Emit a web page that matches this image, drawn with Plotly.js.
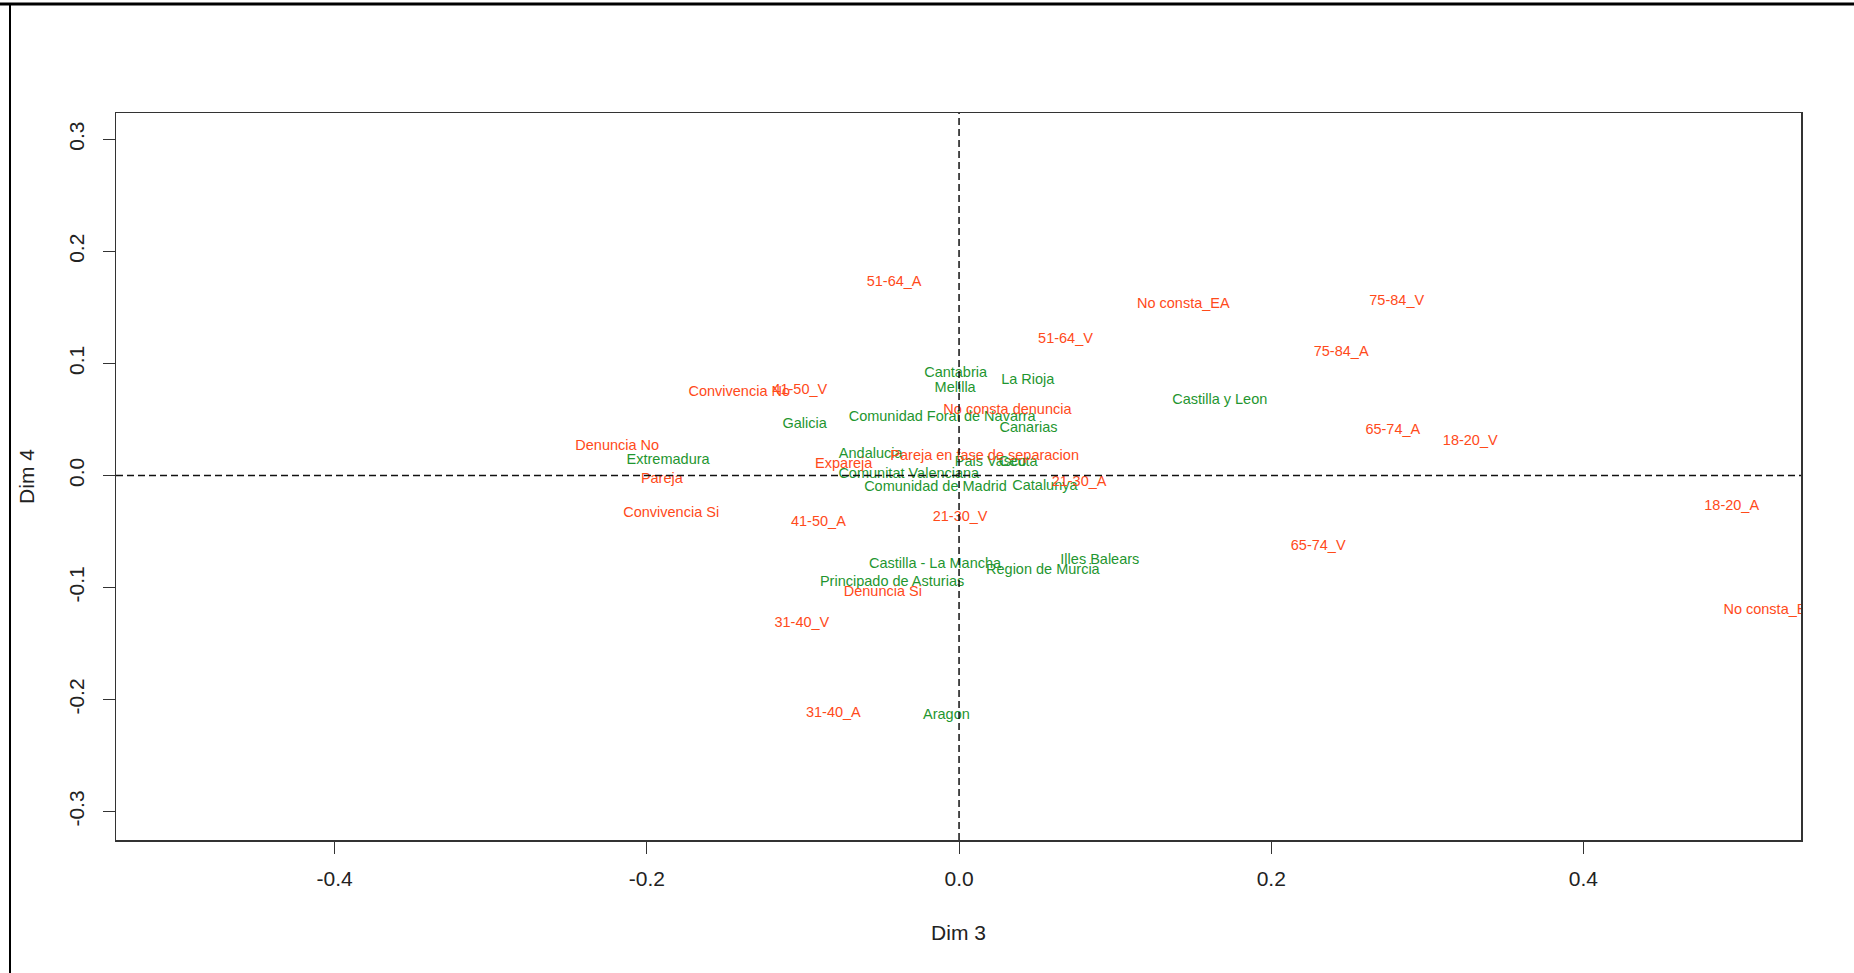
<!DOCTYPE html>
<html>
<head>
<meta charset="utf-8">
<script src="https://cdn.plot.ly/plotly-3.0.1.min.js"></script>
<style>
  html, body { margin: 0; padding: 0; background: #ffffff; }
  #chart { width: 1854px; height: 973px; }
</style>
</head>
<body>
<div id="chart"></div>
<script>
// Column categories (red)
const colLabels = [
  "51-64_A", "No consta_EA", "75-84_V", "51-64_V", "75-84_A",
  "Convivencia No", "41-50_V", "No consta denuncia", "65-74_A", "18-20_V",
  "Denuncia No", "Pareja en fase de separacion", "Expareja", "Pareja", "21-30_A",
  "Convivencia Si", "41-50_A", "21-30_V", "18-20_A", "65-74_V",
  "Denuncia Si", "31-40_V", "31-40_A", "No consta_B"
];
const colDim3 = [
  -0.0416, 0.1437, 0.2804, 0.0682, 0.2448,
  -0.1408, -0.1020, 0.0310, 0.2779, 0.3275,
  -0.2190, 0.0164, -0.0739, -0.1904, 0.0769,
  -0.1844, -0.0901, 0.0007, 0.4950, 0.2301,
  -0.0488, -0.1007, -0.0805, 0.5163
];
const colDim4 = [
  0.1722, 0.1528, 0.1552, 0.1219, 0.1099,
  0.0742, 0.0763, 0.0584, 0.0400, 0.0301,
  0.0256, 0.0173, 0.0098, -0.0036, -0.0062,
  -0.0339, -0.0414, -0.0378, -0.0280, -0.0637,
  -0.1046, -0.1316, -0.2121, -0.1200
];

// Row categories (green)
const rowLabels = [
  "Cantabria", "La Rioja", "Melilla", "Castilla y Leon", "Comunidad Foral de Navarra",
  "Galicia", "Canarias", "Andalucia", "Extremadura", "Pais Vasco",
  "Ceuta", "Comunitat Valenciana", "Comunidad de Madrid", "Catalunya", "Illes Balears",
  "Castilla - La Mancha", "Region de Murcia", "Principado de Asturias", "Aragon"
];
const rowDim3 = [
  -0.0022, 0.0440, -0.0025, 0.1670, -0.0108,
  -0.0989, 0.0445, -0.0566, -0.1864, 0.0202,
  0.0379, -0.0322, -0.0151, 0.0550, 0.0902,
  -0.0154, 0.0537, -0.0429, -0.0081
];
const rowDim4 = [
  0.0912, 0.0852, 0.0778, 0.0668, 0.0519,
  0.0459, 0.0424, 0.0188, 0.0138, 0.0116,
  0.0116, 0.0009, -0.0107, -0.0095, -0.0754,
  -0.0795, -0.0846, -0.0956, -0.2141
];

const xTicks = [-0.4, -0.2, 0.0, 0.2, 0.4];
const xTickText = ["-0.4", "-0.2", "0.0", "0.2", "0.4"];
const yTicks = [-0.3, -0.2, -0.1, 0.0, 0.1, 0.2, 0.3];
const yTickText = ["-0.3", "-0.2", "-0.1", "0.0", "0.1", "0.2", "0.3"];

const FONT = "Liberation Sans, Arial, sans-serif";
const RED = "#ff4a1a";
const GREEN = "#1f9630";

const traces = [
  {
    type: "scatter", mode: "text",
    x: rowDim3, y: rowDim4, text: rowLabels,
    textposition: "middle center",
    textfont: { family: FONT, size: 14.5, color: GREEN },
    cliponaxis: true, hoverinfo: "text", showlegend: false
  },
  {
    type: "scatter", mode: "text",
    x: colDim3, y: colDim4, text: colLabels,
    textposition: "middle center",
    textfont: { family: FONT, size: 14.5, color: RED },
    cliponaxis: true, hoverinfo: "text", showlegend: false
  }
];

const axisCommon = {
  showgrid: false, zeroline: false,
  showline: true, mirror: true, linecolor: "#333333", linewidth: 1.5,
  ticks: "outside", ticklen: 12, tickcolor: "#333333", tickwidth: 1,
  tickfont: { family: FONT, size: 21, color: "#222222" }
};

const layout = {
  width: 1854, height: 973,
  paper_bgcolor: "#ffffff", plot_bgcolor: "#ffffff",
  margin: { l: 116, r: 53, t: 113, b: 133 },
  showlegend: false,
  xaxis: Object.assign({}, axisCommon, {
    range: [-0.5401, 0.5394],
    tickmode: "array", tickvals: xTicks, ticktext: xTickText,
    ticklabelstandoff: 7,
    title: { text: "Dim 3", font: { family: FONT, size: 21, color: "#222222" }, standoff: 36 }
  }),
  yaxis: Object.assign({}, axisCommon, {
    range: [-0.3253, 0.3235],
    tickmode: "array", tickvals: yTicks, ticktext: yTickText,
    tickangle: -90,
    ticklabelstandoff: 10,
    title: { text: "Dim 4", font: { family: FONT, size: 21, color: "#222222" }, standoff: 24 }
  }),
  shapes: [
    { type: "line", xref: "x", yref: "paper", x0: 0, x1: 0, y0: 0, y1: 1,
      line: { color: "#111111", width: 1.5, dash: "7px,4px" } },
    { type: "line", xref: "paper", yref: "y", x0: 0, x1: 1, y0: 0, y1: 0,
      line: { color: "#111111", width: 1.5, dash: "7px,4px" } },
    // outer frame edges (top and left)
    { type: "line", xref: "paper", yref: "paper",
      x0: -116/1685, x1: (1854-116)/1685, y0: (840-4)/727, y1: (840-4)/727,
      line: { color: "#000000", width: 3 } },
    { type: "line", xref: "paper", yref: "paper",
      x0: (10-116)/1685, x1: (10-116)/1685, y0: (840-973)/727, y1: (840-4)/727,
      line: { color: "#000000", width: 2 } }
  ]
};

Plotly.newPlot("chart", traces, layout, { displayModeBar: false, staticPlot: true });
</script>
</body>
</html>
